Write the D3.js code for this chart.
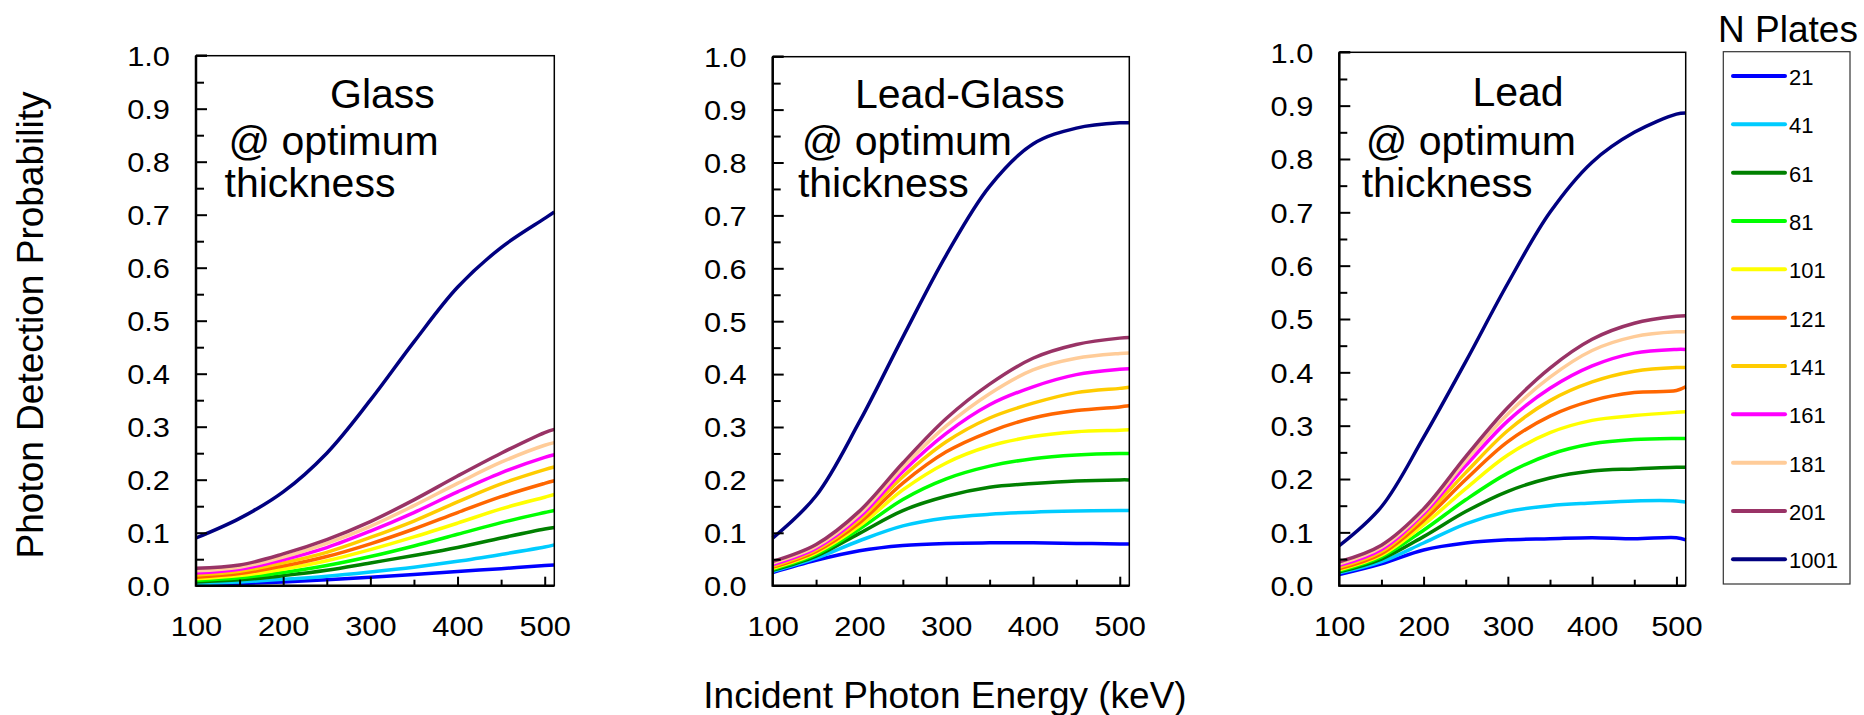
<!DOCTYPE html>
<meta charset="utf-8">
<script src="https://cdn.jsdelivr.net/npm/d3@7"></script>
<style>
body { margin: 0; background: #fff; }
svg { display: block; font-family: "Liberation Sans", Arial, sans-serif; }
.frame { fill: none; stroke: #000; stroke-width: 1.5; }
.axisLine { stroke: #000; stroke-width: 2.5; }
.tick line { stroke: #000; stroke-width: 2; }
.axis path { display: none; }
.axis text { font-size: 28px; fill: #000; font-family: "Liberation Sans", Arial, sans-serif; }
.curve { fill: none; stroke-width: 3.5; stroke-linejoin: round; }
.title { font-size: 41px; fill: #000; }
.axisTitle { font-size: 37px; fill: #000; }
.legendBox { fill: #fff; stroke: #333; stroke-width: 1.2; }
.legendText { font-size: 22px; fill: #000; }
</style>
<body></body>
<script>

// ---- data ----
const energy = [100, 150, 200, 250, 300, 350, 400, 450, 500, 511];
const plates = ["21", "41", "61", "81", "101", "121", "141", "161", "181", "201", "1001"];
const yTickValues = [0, 0.1, 0.2, 0.3, 0.4, 0.5, 0.6, 0.7, 0.8, 0.9, 1.0];
const xTickValues = [100, 200, 300, 400, 500];

// Glass
const glassProb = [
  [0.002, 0.004, 0.007, 0.011, 0.016, 0.021, 0.027, 0.032, 0.038, 0.039],
  [0.004, 0.007, 0.012, 0.018, 0.026, 0.035, 0.046, 0.059, 0.073, 0.077],
  [0.007, 0.011, 0.019, 0.029, 0.043, 0.057, 0.072, 0.090, 0.107, 0.110],
  [0.010, 0.015, 0.025, 0.038, 0.055, 0.075, 0.097, 0.119, 0.138, 0.142],
  [0.013, 0.019, 0.031, 0.047, 0.068, 0.092, 0.118, 0.145, 0.167, 0.172],
  [0.016, 0.023, 0.037, 0.055, 0.079, 0.107, 0.138, 0.168, 0.193, 0.198],
  [0.020, 0.027, 0.043, 0.063, 0.091, 0.122, 0.158, 0.192, 0.219, 0.224],
  [0.024, 0.031, 0.049, 0.072, 0.103, 0.138, 0.177, 0.213, 0.242, 0.247],
  [0.028, 0.035, 0.054, 0.080, 0.112, 0.151, 0.193, 0.233, 0.265, 0.270],
  [0.033, 0.039, 0.060, 0.087, 0.121, 0.162, 0.207, 0.250, 0.289, 0.295],
  [0.090, 0.127, 0.177, 0.250, 0.350, 0.460, 0.563, 0.638, 0.693, 0.705]
];

// Lead-Glass
const leadGlassProb = [
  [0.025, 0.048, 0.066, 0.076, 0.080, 0.081, 0.081, 0.080, 0.079, 0.079],
  [0.027, 0.052, 0.085, 0.113, 0.128, 0.135, 0.139, 0.141, 0.142, 0.142],
  [0.029, 0.056, 0.099, 0.142, 0.169, 0.186, 0.193, 0.198, 0.200, 0.200],
  [0.031, 0.059, 0.107, 0.163, 0.202, 0.226, 0.240, 0.247, 0.250, 0.250],
  [0.033, 0.062, 0.113, 0.181, 0.232, 0.264, 0.282, 0.291, 0.294, 0.295],
  [0.035, 0.065, 0.119, 0.194, 0.253, 0.291, 0.317, 0.331, 0.338, 0.340],
  [0.037, 0.068, 0.125, 0.206, 0.272, 0.317, 0.345, 0.365, 0.373, 0.375],
  [0.040, 0.071, 0.130, 0.216, 0.288, 0.342, 0.376, 0.399, 0.409, 0.410],
  [0.043, 0.074, 0.135, 0.224, 0.302, 0.363, 0.408, 0.430, 0.439, 0.440],
  [0.046, 0.078, 0.141, 0.232, 0.316, 0.381, 0.430, 0.456, 0.468, 0.469],
  [0.090, 0.170, 0.310, 0.470, 0.625, 0.755, 0.835, 0.865, 0.875, 0.875]
];

// Lead
const leadProb = [
  [0.021, 0.041, 0.067, 0.080, 0.086, 0.088, 0.090, 0.088, 0.090, 0.086],
  [0.024, 0.045, 0.080, 0.116, 0.139, 0.150, 0.155, 0.159, 0.159, 0.157],
  [0.026, 0.050, 0.092, 0.139, 0.177, 0.202, 0.215, 0.219, 0.222, 0.222],
  [0.028, 0.054, 0.104, 0.161, 0.211, 0.246, 0.266, 0.274, 0.276, 0.276],
  [0.030, 0.057, 0.114, 0.182, 0.245, 0.287, 0.310, 0.319, 0.325, 0.326],
  [0.032, 0.060, 0.122, 0.199, 0.270, 0.318, 0.347, 0.362, 0.366, 0.373],
  [0.035, 0.064, 0.129, 0.212, 0.291, 0.347, 0.382, 0.402, 0.409, 0.409],
  [0.038, 0.068, 0.135, 0.225, 0.309, 0.370, 0.412, 0.436, 0.443, 0.443],
  [0.041, 0.072, 0.139, 0.234, 0.322, 0.391, 0.441, 0.467, 0.476, 0.476],
  [0.045, 0.076, 0.144, 0.242, 0.334, 0.408, 0.462, 0.492, 0.505, 0.506],
  [0.075, 0.148, 0.278, 0.420, 0.567, 0.700, 0.794, 0.850, 0.884, 0.886]
];

const plateColors = ["#0000ff", "#00ccff", "#008000", "#00ff00", "#ffff00", "#ff6600",
                     "#ffcc00", "#ff00ff", "#ffcc99", "#993366", "#000080"];

// ---- layout ----
const width = 1864, height = 715;
const panels = [
  {data: glassProb, left: 196, right: 554.3, top: 55.7, bottom: 585.7,
   title: "Glass", tx: 330, ty: 108, lx: [228.5, 224.5]},
  {data: leadGlassProb, left: 772.7, right: 1129.3, top: 56.7, bottom: 585.7,
   title: "Lead-Glass", tx: 855, ty: 108, lx: [801.8, 797.9]},
  {data: leadProb, left: 1339.3, right: 1685.7, top: 52.3, bottom: 585.7,
   title: "Lead", tx: 1472.4, ty: 106, lx: [1365.7, 1361.7]}
];

const svg = d3.select("body").append("svg")
  .attr("width", width)
  .attr("height", height);

panels.forEach(function(p) {
  const x = d3.scaleLinear().domain([100, 511]).range([p.left, p.right]);
  const y = d3.scaleLinear().domain([0, 1]).range([p.bottom, p.top]);
  const g = svg.append("g");

  // curves
  const line = d3.line()
    .x((d, i) => x(energy[i]))
    .y(d => y(d))
    .curve(d3.curveCatmullRom.alpha(0.5));

  g.selectAll(".curve")
    .data(p.data)
    .enter().append("path")
    .attr("class", "curve")
    .attr("stroke", (d, i) => plateColors[i])
    .attr("d", line);

  // inward ticks
  const minorY = d3.range(0.05, 1, 0.1);
  const majorY = d3.range(0.1, 1.0, 0.1);
  g.append("g").attr("class", "axis").attr("transform", "translate(" + p.left + ",0)")
    .call(d3.axisLeft(y).tickValues(minorY).tickSize(-8).tickFormat(""));
  g.append("g").attr("class", "axis").attr("transform", "translate(" + p.left + ",0)")
    .call(d3.axisLeft(y).tickValues(majorY).tickSize(-11).tickFormat(""));
  g.append("g").attr("class", "axis").attr("transform", "translate(0," + p.bottom + ")")
    .call(d3.axisBottom(x).tickValues([150, 250, 350, 450]).tickSize(-6).tickFormat(""));
  g.append("g").attr("class", "axis").attr("transform", "translate(0," + p.bottom + ")")
    .call(d3.axisBottom(x).tickValues([200, 300, 400, 500]).tickSize(-9).tickFormat(""));

  // frame
  g.append("rect").attr("class", "frame")
    .attr("x", p.left).attr("y", p.top)
    .attr("width", p.right - p.left).attr("height", p.bottom - p.top);
  g.append("line").attr("class", "axisLine")
    .attr("x1", p.left).attr("x2", p.left).attr("y1", p.top).attr("y2", p.bottom + 1);
  g.append("line").attr("class", "axisLine")
    .attr("x1", p.left).attr("x2", p.right).attr("y1", p.bottom).attr("y2", p.bottom);
  g.append("line").attr("class", "axisLine")
    .attr("x1", p.left).attr("x2", p.left + 11).attr("y1", p.top).attr("y2", p.top);

  // tick labels
  const yAx = g.append("g").attr("class", "axis").attr("transform", "translate(" + p.left + ",0)")
    .call(d3.axisLeft(y).tickValues(yTickValues).tickSize(0).tickFormat(d3.format(".1f")));
  yAx.selectAll("text")
    .attr("x", null).attr("dy", "0.35em")
    .attr("transform", "translate(-26,0) scale(1.1,1)");

  const xAx = g.append("g").attr("class", "axis").attr("transform", "translate(0," + p.bottom + ")")
    .call(d3.axisBottom(x).tickValues(xTickValues).tickSize(0));
  xAx.selectAll("text")
    .attr("y", null).attr("dy", "0.71em")
    .attr("transform", "translate(0,30) scale(1.1,1)");

  // panel titles
  g.append("text").attr("class", "title").attr("x", p.tx).attr("y", p.ty).text(p.title);
  g.append("text").attr("class", "title").attr("x", p.lx[0]).attr("y", 155).text("@ optimum");
  g.append("text").attr("class", "title").attr("x", p.lx[1]).attr("y", 197).text("thickness");
});

// axis titles
svg.append("text")
  .attr("class", "axisTitle")
  .attr("text-anchor", "middle")
  .attr("transform", "translate(43,325) rotate(-90)")
  .text("Photon Detection Probability");

svg.append("text")
  .attr("class", "axisTitle")
  .attr("text-anchor", "middle")
  .attr("x", 945)
  .attr("y", 708)
  .text("Incident Photon Energy (keV)");

// legend
const legendY = d3.scaleLinear().domain([0, plates.length - 1]).range([76, 559.3]);

svg.append("text")
  .attr("class", "axisTitle")
  .attr("text-anchor", "middle")
  .attr("x", 1788)
  .attr("y", 41.7)
  .text("N Plates");

svg.append("rect")
  .attr("class", "legendBox")
  .attr("x", 1723.3).attr("y", 51.7)
  .attr("width", 1850 - 1723.3).attr("height", 584 - 51.7);

const item = svg.selectAll(".legendItem")
  .data(plates)
  .enter().append("g")
  .attr("class", "legendItem")
  .attr("transform", (d, i) => "translate(0," + legendY(i) + ")");

item.append("line")
  .attr("x1", 1733).attr("x2", 1785)
  .attr("stroke", (d, i) => plateColors[i])
  .attr("stroke-width", 4)
  .attr("stroke-linecap", "round");

item.append("text")
  .attr("class", "legendText")
  .attr("x", 1789)
  .attr("y", 9)
  .text(d => d);

</script>
